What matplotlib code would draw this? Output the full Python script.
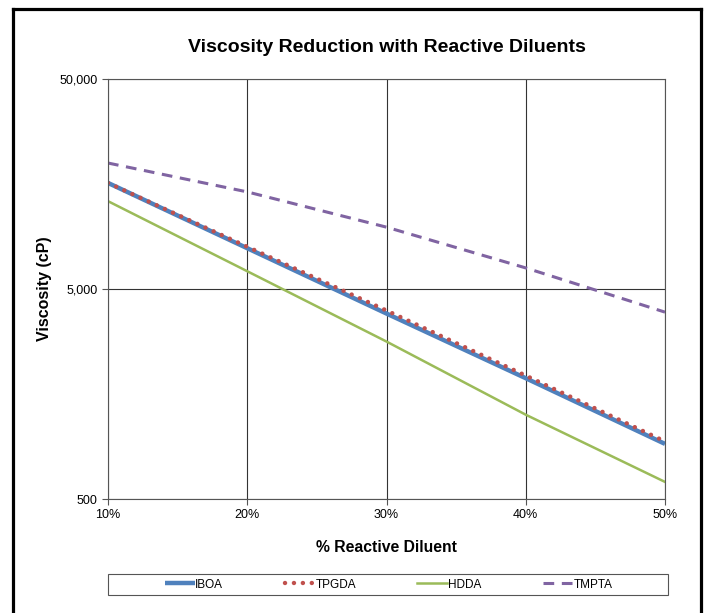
import matplotlib.pyplot as plt
from matplotlib.lines import Line2D
from matplotlib.patches import Rectangle
from matplotlib.ticker import FixedLocator, NullLocator

plt.rcParams['font.family'] = ['Liberation Sans', 'DejaVu Sans']

diluent = [10, 20, 30, 40, 50]
iboa = [16000, 7820, 3820, 1880, 915]
tpgda = [16000, 7950, 3950, 1935, 940]
hdda = [13100, 6075, 2810, 1260, 603]
tmpta = [19900, 14500, 9850, 6300, 3880]

y_ticks = [500, 5000, 50000]
y_labels = ['500', '5,000', '50,000']
x_ticks = [10, 20, 30, 40, 50]
x_labels = ['10%', '20%', '30%', '40%', '50%']


def main():
    W, H = 707, 613
    fig = plt.figure(figsize=(7.07, 6.13), dpi=100)
    ax = fig.add_axes([108 / W, 1 - 499 / H, 557 / W, 420 / H])

    ax.plot(diluent, iboa, color='#4F81BD', lw=3.2, label='IBOA', solid_capstyle='butt')
    ax.plot(diluent, tpgda, color='#C0504D', lw=3.2, ls=(0, (0.01, 2.0)),
            dash_capstyle='round', label='TPGDA')
    ax.plot(diluent, hdda, color='#9BBB59', lw=1.8, label='HDDA')
    ax.plot(diluent, tmpta, color='#8064A2', lw=2.2, ls=(0, (3.5, 2.5)), label='TMPTA')

    ax.set_yscale('log')
    ax.set_ylim(500, 50000)
    ax.set_xlim(10, 50)
    ax.yaxis.set_major_locator(FixedLocator(y_ticks))
    ax.yaxis.set_minor_locator(NullLocator())
    ax.set_yticklabels(y_labels)
    ax.set_xticks(x_ticks)
    ax.set_xticklabels(x_labels)
    ax.tick_params(axis='both', direction='out', length=4, width=0.8,
                   labelsize=9, color='#555555')
    ax.grid(True, color='#333333', lw=0.8)
    for s in ax.spines.values():
        s.set_color('#555555')
        s.set_linewidth(0.8)

    cx = 0.5 * (108 + 665) / W
    fig.text(cx, 1 - 48 / H, 'Viscosity Reduction with Reactive Diluents',
             ha='center', va='center', fontsize=14, fontweight='bold')
    fig.text(cx, 1 - 548 / H, '% Reactive Diluent',
             ha='center', va='center', fontsize=11.3, fontweight='bold')
    fig.text(45 / W, 1 - 289 / H, 'Viscosity (cP)', rotation=90,
             ha='center', va='center', fontsize=11.5, fontweight='bold')

    # legend frame spans the plot width, entries centred inside
    fig.add_artist(Rectangle((108 / W, 1 - 595 / H), 560 / W, 21 / H, transform=fig.transFigure,
                             facecolor='white', edgecolor='#555555', lw=0.8))
    leg = fig.legend(loc='center', ncol=4, bbox_to_anchor=(388.5 / W, 1 - 584.5 / H),
                     frameon=False, fontsize=8.5, handlelength=2.55,
                     columnspacing=5.2, handletextpad=0.05, borderpad=0.2)

    # outer border of the chart area
    x0, x1 = 13 / W, 701 / W
    yt = 1 - 9 / H
    for xs, ys in [([x0, x0], [0, yt]), ([x0, x1], [yt, yt]), ([x1, x1], [yt, 0])]:
        fig.add_artist(Line2D(xs, ys, color='black', lw=2.3, transform=fig.transFigure))

    fig.savefig('out.png', dpi=100)


if __name__ == "__main__":
    main()
